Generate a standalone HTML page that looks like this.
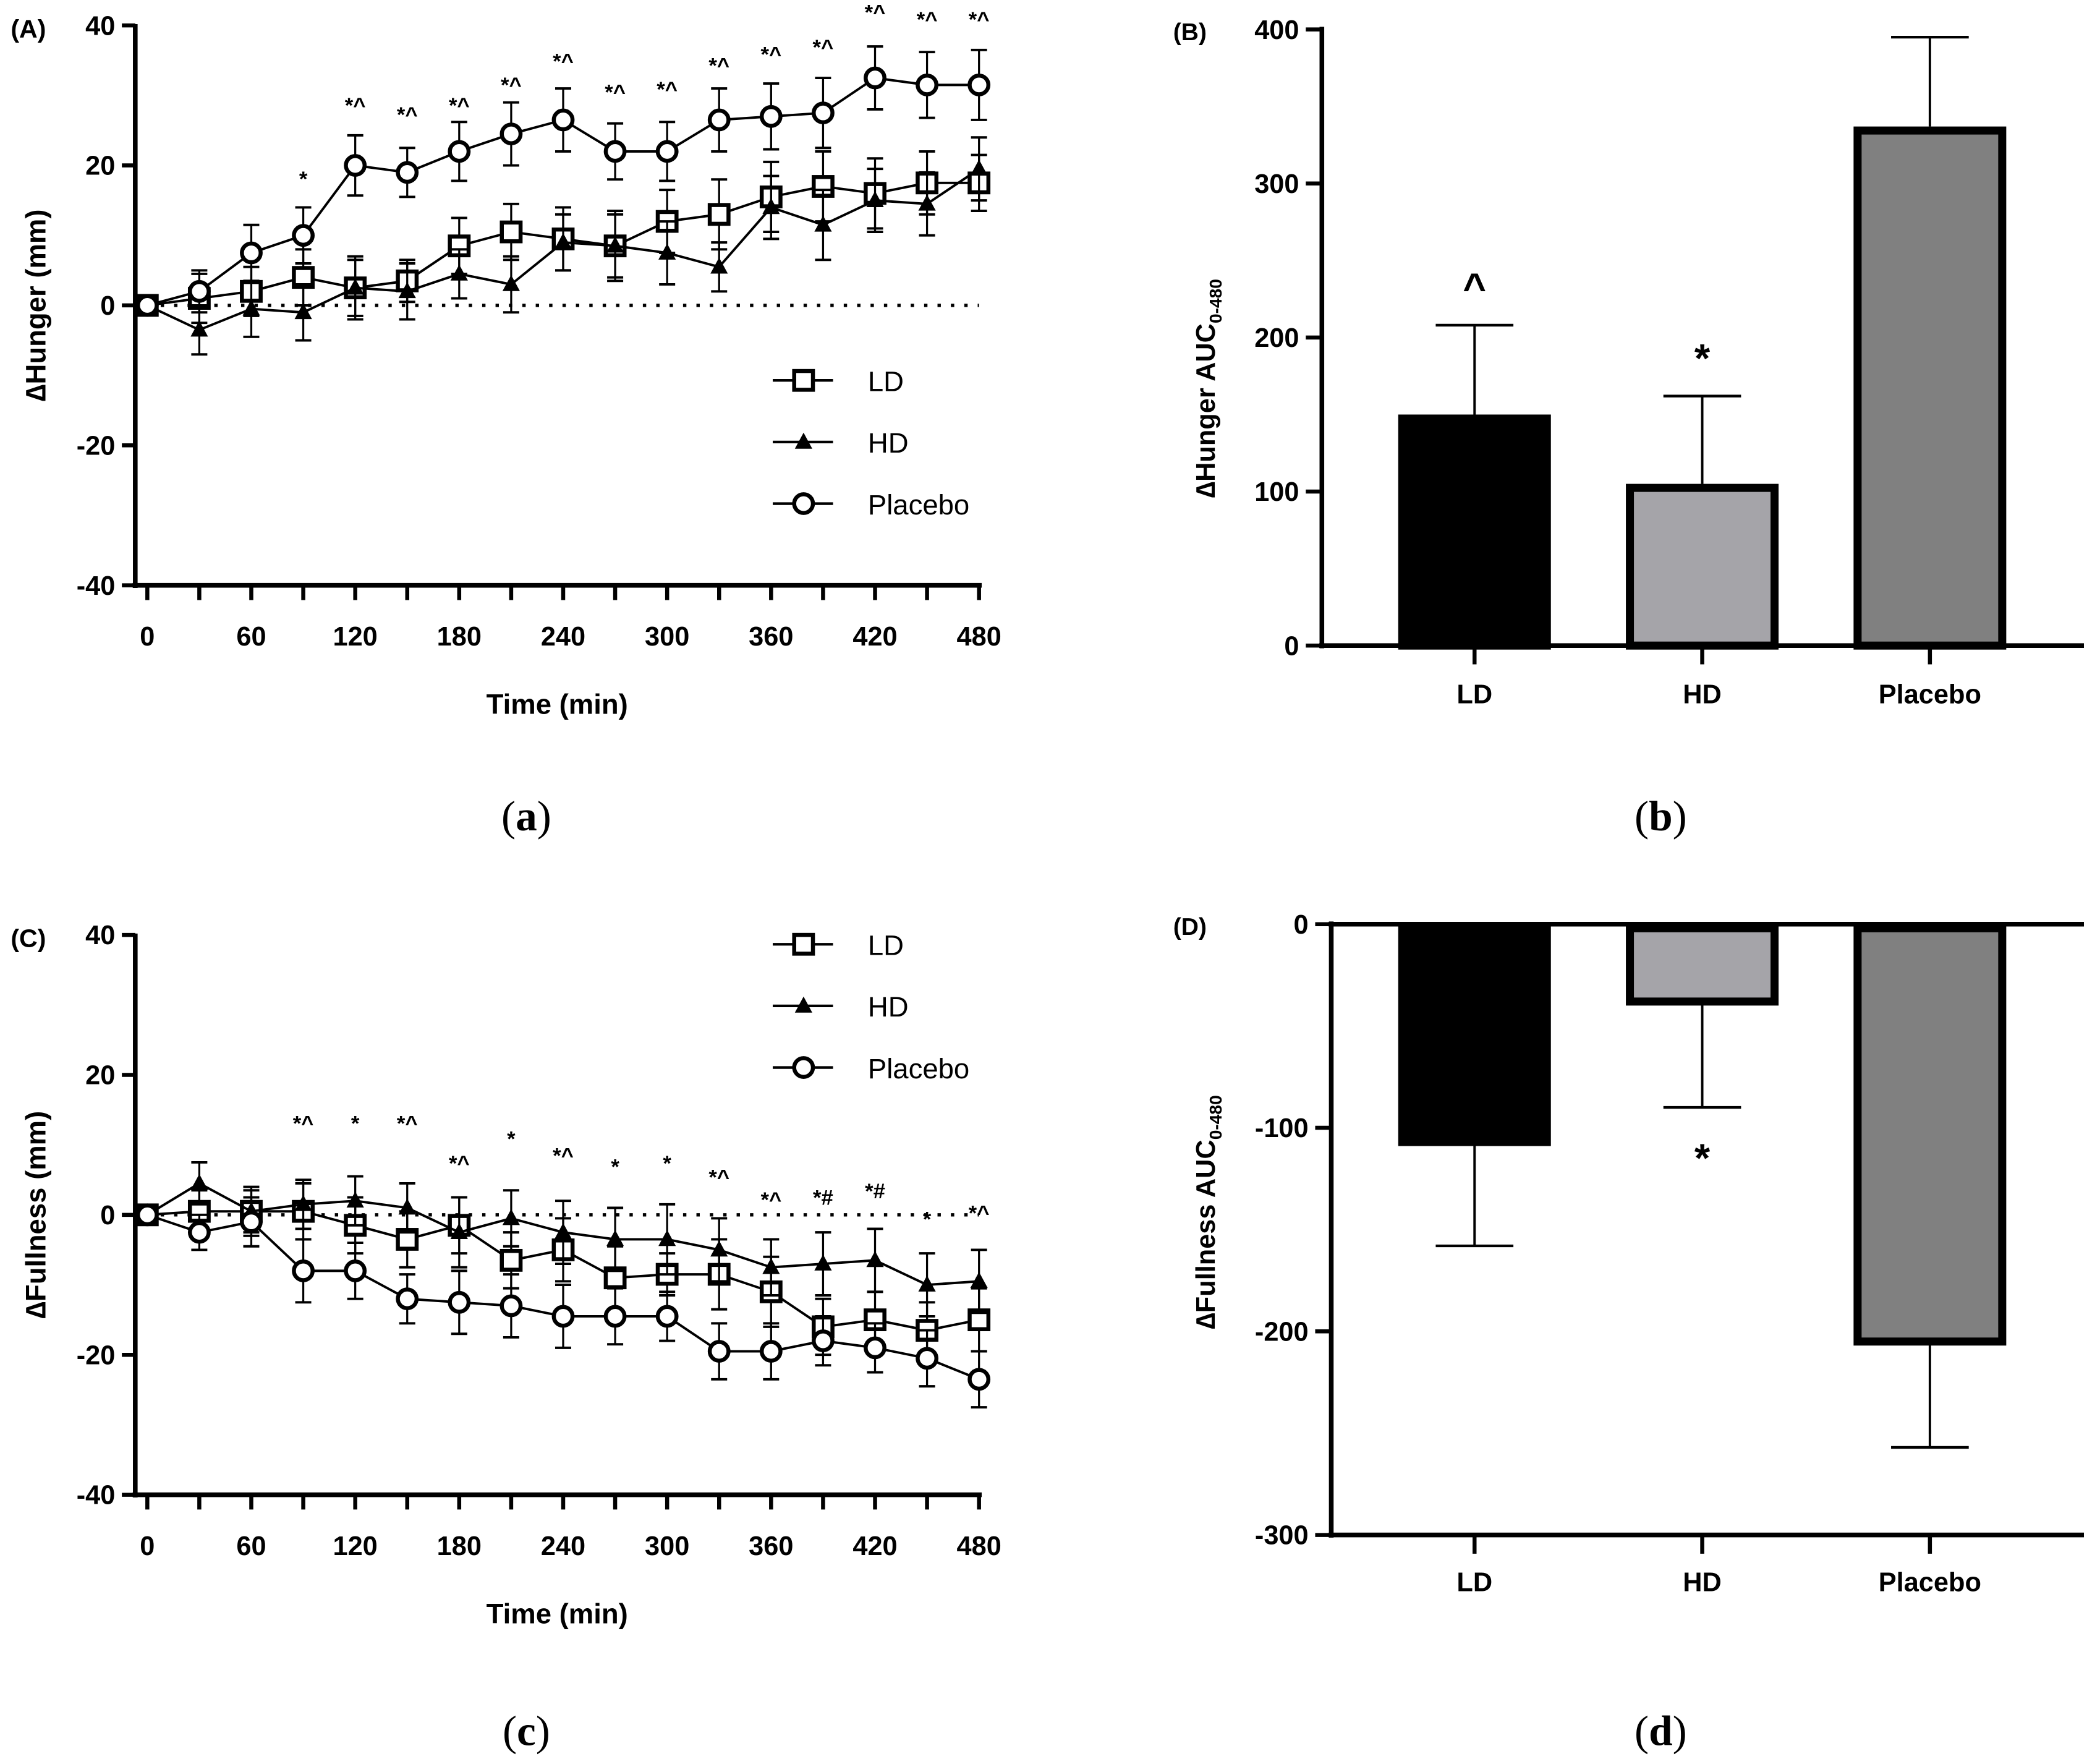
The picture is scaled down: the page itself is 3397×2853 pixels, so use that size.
<!DOCTYPE html>
<html><head><meta charset="utf-8"><style>
html,body{margin:0;padding:0;background:#fff;}
svg{display:block;}
text{font-family:"Liberation Sans",sans-serif;}
text.serif{font-family:"Liberation Serif",serif;}
</style></head><body>
<svg id="fig" width="3397" height="2853" viewBox="0 0 1568 1317" preserveAspectRatio="none" xmlns="http://www.w3.org/2000/svg"></svg>
<script>
// ---- data ----
const times = [0,30,60,90,120,150,180,210,240,270,300,330,360,390,420,450,480];
const xTicks = [0,60,120,180,240,300,360,420,480];
const lineYTicks = [40,20,0,-20,-40];
const hungerLD = [0,1,2,4,2.5,3.5,8.5,10.5,9.5,8.5,12,13,15.5,17,16,17.5,17.5];
const hungerLDErr = [0,3.5,3.5,4,4.5,3,4,4,4.5,4.5,4.5,5,5,5,5,4.5,4];
const hungerHD = [0,-3.5,-0.5,-1,2.5,2,4.5,3,9,8.5,7.5,5.5,14,11.5,15,14.5,19.5];
const hungerHDErr = [0,3.5,4,4,4,4,3.5,4,4,5,4.5,3.5,4.5,5,4.5,4.5,4.5];
const hungerPL = [0,2,7.5,10,20,19,22,24.5,26.5,22,22,26.5,27,27.5,32.5,31.5,31.5];
const hungerPLErr = [0,3,4,4,4.3,3.5,4.2,4.5,4.5,4,4.2,4.5,4.7,5,4.5,4.7,5];
const hungerSig = ["","","","*","*^","*^","*^","*^","*^","*^","*^","*^","*^","*^","*^","*^","*^"];
const hungerSigY = [0,0,0,18.2,28.7,27.4,28.7,31.6,35,30.6,31,34.4,36,37,42,41,41];
const fullLD = [0,0.5,0.5,0.5,-1.5,-3.5,-1.5,-6.5,-5,-9,-8.5,-8.5,-11,-16,-15,-16.5,-15];
const fullLDErr = [0,3,3,4,4,4,4,4,4.5,4.5,3,5,5,4,4,4,4.5];
const fullHD = [0,4.5,0.5,1.5,2,1,-2.5,-0.5,-2.5,-3.5,-3.5,-5,-7.5,-7,-6.5,-10,-9.5];
const fullHDErr = [0,3,3.5,3.5,3.5,3.5,5,4,4.5,4.5,5,4.5,4,4.5,4.5,4.5,4.5];
const fullPL = [0,-2.5,-1,-8,-8,-12,-12.5,-13,-14.5,-14.5,-14.5,-19.5,-19.5,-18,-19,-20.5,-23.5];
const fullPLErr = [0,2.5,3.5,4.5,4,3.5,4.5,4.5,4.5,4,3.5,4,4,3.5,3.5,4,4];
const fullSig = ["","","","*^","*","*^","*^","*","*^","*","*","*^","*^","*#","*#","*","*^"];
const fullSigY = [0,0,0,13.2,13.2,13.2,7.5,11,8.6,7,7.5,5.5,2.3,2.6,3.5,-0.5,0.4];
const barCats = ["LD","HD","Placebo"];
const hungerAUC = [150,105,337];
const hungerAUCErr = [58,57,58];
const fullAUC = [-107,-38,-205];
const fullAUCErr = [51,52,52];
const barTicksB = [0,100,200,300,400];
const barTicksD = [0,-100,-200,-300];

const NS = "http://www.w3.org/2000/svg";
const svg = document.getElementById('fig');
function el(tag, attrs, parent, text){
  const e = document.createElementNS(NS, tag);
  for (const k in attrs) e.setAttribute(k, attrs[k]);
  if (text !== undefined) e.textContent = text;
  (parent||svg).appendChild(e);
  return e;
}

function linePanel(o){
  const g = el('g',{});
  
  
  const X = t => 110 + t*(621/480);
  const Y = v => o.y0 - v*5.225;
  const ax = el('line',{x1:101,y1:Y(40)-1,x2:101,y2:Y(-40)+2,stroke:'#000','stroke-width':3.5},g);
   
  const xax = el('line',{x1:99,y1:Y(-40),x2:733,y2:Y(-40),stroke:'#000','stroke-width':3.5},g);
   
  lineYTicks.forEach(v=>{
    el('line',{x1:91,y1:Y(v),x2:101,y2:Y(v),stroke:'#000','stroke-width':3},g);
    const t = el('text',{x:86,y:Y(v)+7,'text-anchor':'end','font-size':20,'font-weight':'bold'},g,String(v));
     
  });
  times.forEach(tm=>{
    el('line',{x1:X(tm),y1:Y(-40),x2:X(tm),y2:Y(-40)+11,stroke:'#000','stroke-width':3},g);
  });
  xTicks.forEach(tm=>{
    const t = el('text',{x:X(tm),y:Y(-40)+45,'text-anchor':'middle','font-size':20,'font-weight':'bold'},g,String(tm));
     
  });
  const xt = el('text',{x:416,y:Y(-40)+96,'text-anchor':'middle','font-size':21,'font-weight':'bold'},g,'Time (min)');
   
  const yt = el('text',{x:0,y:0,'text-anchor':'middle','font-size':21,'font-weight':'bold',transform:`translate(34,${Y(0)}) rotate(-90)`},g,o.ytitle);
   
  const pl = el('text',{x:8,y:Y(40)+9,'font-size':19,'font-weight':'bold'},g,o.letter);
   
  const zl = el('line',{x1:X(0),y1:Y(0),x2:X(480),y2:Y(0),stroke:'#000','stroke-width':2.5,'stroke-dasharray':'2.5 7.5'},g);
   
  o.series.forEach(s=>{
    const sg = el('g',{},g);
    
    
    s.err.forEach((e,i)=>{
      if(!e) return;
      const x=X(times[i]);
      el('line',{x1:x,y1:Y(s.vals[i]-e),x2:x,y2:Y(s.vals[i]+e),stroke:'#000','stroke-width':1.5},sg);
      el('line',{x1:x-6,y1:Y(s.vals[i]+e),x2:x+6,y2:Y(s.vals[i]+e),stroke:'#000','stroke-width':1.8},sg);
      el('line',{x1:x-6,y1:Y(s.vals[i]-e),x2:x+6,y2:Y(s.vals[i]-e),stroke:'#000','stroke-width':1.8},sg);
    });
    el('polyline',{points:s.vals.map((v,i)=>X(times[i])+','+Y(v)).join(' '),fill:'none',stroke:'#000','stroke-width':1.8},sg);
    s.vals.forEach((v,i)=>{
      const m = marker(s.mk, X(times[i]), Y(v), sg);
      
      
    });
  });
  o.sig.forEach((s,i)=>{
    if(!s) return;
    const t = el('text',{x:X(times[i]),y:Y(o.sigY[i])+6,'text-anchor':'middle','font-size':16,'font-weight':'bold'},g,s);
     
  });
  const lg = el('g',{},g);
   
  [['LD','sq'],['HD','tri'],['Placebo','circ']].forEach((L,k)=>{
    const yy = o.legY + k*46;
    const eg = el('g',{},lg);
     
    el('line',{x1:577,y1:yy,x2:622,y2:yy,stroke:'#000','stroke-width':2},eg);
    marker(L[1],600,yy,eg);
    el('text',{x:648,y:yy+8,'font-size':21},eg,L[0]);
  });
}
function marker(kind,x,y,p){
  if(kind==='sq') return el('rect',{x:x-7,y:y-7,width:14,height:14,fill:'#fff',stroke:'#000','stroke-width':3},p);
  if(kind==='tri') return el('polygon',{points:`${x},${y-7} ${x-6.5},${y+5} ${x+6.5},${y+5}`,fill:'#000'},p);
  return el('circle',{cx:x,cy:y,r:7,fill:'#fff',stroke:'#000','stroke-width':3},p);
}

linePanel({name:'hunger-line-chart',y0:228,letter:'(A)',ytitle:'\u2206Hunger (mm)',legY:284,
  sig:hungerSig,sigY:hungerSigY,
  series:[{name:'hunger-ld-series',vals:hungerLD,err:hungerLDErr,mk:'sq'},
          {name:'hunger-hd-series',vals:hungerHD,err:hungerHDErr,mk:'tri'},
          {name:'hunger-placebo-series',vals:hungerPL,err:hungerPLErr,mk:'circ'}]});
linePanel({name:'fullness-line-chart',y0:907,letter:'(C)',ytitle:'\u2206Fullness (mm)',legY:705,
  sig:fullSig,sigY:fullSigY,
  series:[{name:'fullness-ld-series',vals:fullLD,err:fullLDErr,mk:'sq'},
          {name:'fullness-hd-series',vals:fullHD,err:fullHDErr,mk:'tri'},
          {name:'fullness-placebo-series',vals:fullPL,err:fullPLErr,mk:'circ'}]});

function barPanel(o){
  const g = el('g',{});
  
  
  const Y = v => o.yTop + (o.vmax - v)*o.k;
  const centers=[1101,1271,1441], fills=['#000','#a5a4a9','#808080'];
  const ax=o.axisX;
  o.vals.forEach((v,i)=>{
    const c=centers[i], top=Math.min(Y(v),Y(0)), h=Math.abs(Y(v)-Y(0));
    const errEnd = Y(v + Math.sign(v)*o.err[i]);
    const eb=el('g',{},g);
     
    el('line',{x1:c,y1:Y(v),x2:c,y2:errEnd,stroke:'#000','stroke-width':1.8},eb);
    el('line',{x1:c-29,y1:errEnd,x2:c+29,y2:errEnd,stroke:'#000','stroke-width':2},eb);
    const r=el('rect',{x:c-54,y:top+3,width:108,height:h-3,fill:fills[i],stroke:'#000','stroke-width':6},g);
     
    const t=el('text',{x:c,y:o.catY,'text-anchor':'middle','font-size':20,'font-weight':'bold'},g,barCats[i]);
     
    el('line',{x1:c,y1:o.tickBase,x2:c,y2:o.tickBase+14,stroke:'#000','stroke-width':3},g);
  });
  const ya=el('line',{x1:ax,y1:o.yAxTop,x2:ax,y2:o.yAxBot,stroke:'#000','stroke-width':3.5},g);
   
  o.hLines.forEach(yv=>{
    const l=el('line',{x1:ax-2,y1:yv,x2:1556,y2:yv,stroke:'#000','stroke-width':3.5},g);
     
  });
  o.ticks.forEach(v=>{
    el('line',{x1:ax-12,y1:Y(v),x2:ax,y2:Y(v),stroke:'#000','stroke-width':3},g);
    const t=el('text',{x:ax-17,y:Y(v)+7,'text-anchor':'end','font-size':20,'font-weight':'bold'},g,String(v));
     
  });
  const yt=el('text',{x:0,y:0,'text-anchor':'middle','font-size':20,'font-weight':'bold',transform:`translate(907,${o.titleY}) rotate(-90)`},g);
   
  el('tspan',{},yt,o.ytitle+' AUC');
  el('tspan',{'font-size':13,dy:5},yt,'0-480');
  const pl=el('text',{x:876,y:o.yAxTop+10,'font-size':18,'font-weight':'bold'},g,o.letter);
   
  o.marks.forEach(m=>{
    const t=el('text',{x:centers[m[0]],y:m[1],'text-anchor':'middle','font-size':30,'font-weight':'bold'},g,m[2]);
     
  });
}
barPanel({name:'hunger-auc-bar-chart',vals:hungerAUC,err:hungerAUCErr,vmax:400,yTop:22,k:460/400,axisX:987,
  ticks:barTicksB,yAxTop:20,yAxBot:484,hLines:[482],tickBase:482,catY:525,titleY:290,
  ytitle:'\u2206Hunger',letter:'(B)',marks:[[0,225,'^'],[1,278,'*']]});
barPanel({name:'fullness-auc-bar-chart',vals:fullAUC,err:fullAUCErr,vmax:0,yTop:690,k:456/300,axisX:994,
  ticks:barTicksD,yAxTop:688,yAxBot:1148,hLines:[690,1146],tickBase:1146,catY:1188,titleY:905,
  ytitle:'\u2206Fullness',letter:'(D)',marks:[[1,875,'*']]});

[['(a)',393,620],['(b)',1240,620],['(c)',393,1303],['(d)',1240,1303]].forEach(c=>{
  const t=el('text',{x:c[1],y:c[2],'text-anchor':'middle','font-size':32,'class':'serif',style:'font-family:"Liberation Serif",serif'});
   
  el('tspan',{},t,'(');
  el('tspan',{'font-weight':'bold'},t,c[0][1]);
  el('tspan',{},t,')');
});
</script>
</body></html>
